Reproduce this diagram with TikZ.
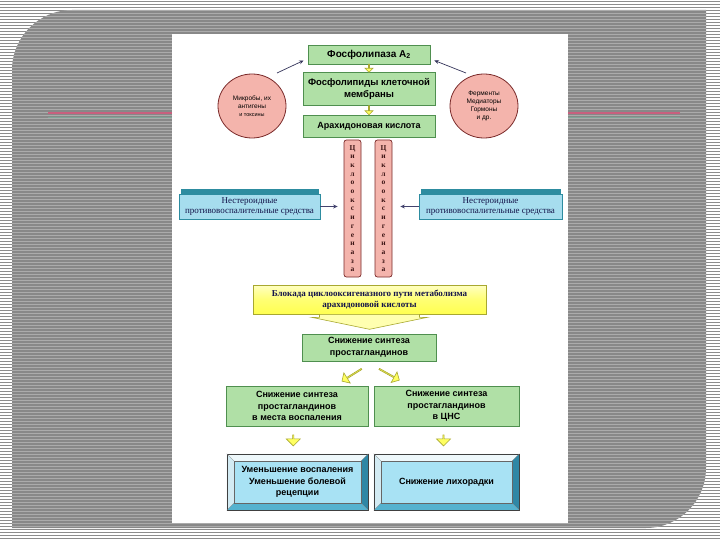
\documentclass[tikz,border=0pt]{standalone}
\usepackage{fontspec}
\setmainfont{Liberation Serif}
\setsansfont{Liberation Sans}
\usetikzlibrary{shapes.arrows,shapes.geometric,arrows.meta,calc}
\definecolor{bgline}{HTML}{8C8C8C}
\definecolor{shapegray}{HTML}{888888}
\definecolor{shapeline}{HTML}{ABABAB}
\definecolor{gfill}{HTML}{B0E0A6}
\definecolor{gdraw}{HTML}{4F8F4F}
\definecolor{pfill}{HTML}{F4B4AC}
\definecolor{pdraw}{HTML}{7A2A2A}
\definecolor{bfill}{HTML}{A6DDEE}
\definecolor{bdark}{HTML}{2D8CA0}
\definecolor{navy}{HTML}{14144A}
\definecolor{yfill}{HTML}{FFFF50}
\definecolor{ydraw}{HTML}{A8A830}
\definecolor{bvtop}{HTML}{EEF8FB}
\definecolor{bvleft}{HTML}{D3EBF3}
\definecolor{bvright}{HTML}{2F87A5}
\definecolor{bvbot}{HTML}{55B2CF}
\definecolor{bvin}{HTML}{A8E2F4}
\definecolor{pinkline}{HTML}{C8607E}
\definecolor{tealline}{HTML}{7FA496}
\newcommand\bevelframe[2]{%
  \fill[bvtop] (#1.north west) -- (#1.north east) -- ($(#1.north east)+(-#2,#2)$) -- ($(#1.north west)+(#2,#2)$) -- cycle;
  \fill[bvleft] (#1.north west) -- (#1.south west) -- ($(#1.south west)+(#2,-#2)$) -- ($(#1.north west)+(#2,#2)$) -- cycle;
  \fill[bvright] (#1.north east) -- (#1.south east) -- ($(#1.south east)+(-#2,-#2)$) -- ($(#1.north east)+(-#2,#2)$) -- cycle;
  \fill[bvbot] (#1.south west) -- (#1.south east) -- ($(#1.south east)+(-#2,-#2)$) -- ($(#1.south west)+(#2,-#2)$) -- cycle;
  \fill[bvin] ($(#1.north west)+(#2,#2)$) rectangle ($(#1.south east)+(-#2,-#2)$);
  \draw[black!75, line width=0.6pt] (#1.north west) rectangle (#1.south east);
  \draw[black!60, line width=0.4pt] ($(#1.north west)+(#2,#2)$) rectangle ($(#1.south east)+(-#2,-#2)$);
  \draw[black!50, line width=0.3pt] (#1.north west) -- ($(#1.north west)+(#2,#2)$)
     (#1.north east) -- ($(#1.north east)+(-#2,#2)$)
     (#1.south west) -- ($(#1.south west)+(#2,-#2)$)
     (#1.south east) -- ($(#1.south east)+(-#2,-#2)$);
}
\begin{document}
\begin{tikzpicture}[x=1pt,y=-1pt,
  gbox/.style={draw=gdraw, fill=gfill, line width=0.8pt, align=center, inner sep=1pt,
     font=\sffamily\bfseries\fontsize{9}{11.5}\selectfont},
  circ/.style={ellipse, draw=pdraw, fill=pfill, line width=0.8pt, align=center, inner sep=0pt,
     font=\sffamily\fontsize{6.5}{8}\selectfont},
  cyc/.style={draw=pdraw, fill=pfill, rounded corners=2.5pt, line width=0.7pt, align=center, inner sep=0pt,
     text=pdraw!50!black, font=\rmfamily\bfseries\fontsize{7.5}{8.7}\selectfont},
  nsbox/.style={draw=bdark, fill=bfill, line width=0.6pt, align=center, inner sep=0pt, text=navy,
     font=\rmfamily\fontsize{9}{9.8}\selectfont},
  ybox/.style={draw=ydraw, line width=0.6pt, align=center, inner sep=0pt, text=navy,
     font=\rmfamily\bfseries\fontsize{9}{10.5}\selectfont},
  yarrow/.style={single arrow, draw=ydraw, fill=yfill!90!white, line width=0.6pt, inner sep=0pt},
  thinarr/.style={draw=navy!80, line width=0.7pt, -{Stealth[length=4.5pt,width=4pt]}},
  bvtext/.style={align=center, font=\sffamily\bfseries\fontsize{9}{11.7}\selectfont}
]
\useasboundingbox (0,0) rectangle (720,540);
% background
\fill[white] (0,0) rectangle (720,540);
\foreach \k in {0,...,179}{\draw[bgline, line width=1.4pt] (0,3*\k+1.5) -- (720,3*\k+1.5);}
\def\shapepath{(12,528) -- (12,70) .. controls (12,37) and (39,10) .. (72,10) -- (706,10) -- (706,468) .. controls (706,501) and (679,528) .. (646,528) -- cycle}
\fill[shapegray] \shapepath;
\begin{scope}
  \clip \shapepath;
  \foreach \k in {0,...,179}{\draw[shapeline, line width=1pt] (0,3*\k+1.5) -- (720,3*\k+1.5);}
\end{scope}
\draw[pinkline, line width=2pt] (48,113) -- (172,113) (568,113) -- (680,113);
\draw[tealline, line width=1.5pt] (48,117.5) -- (172,117.5) (568,117.5) -- (680,117.5);
\fill[white] (172,34) rectangle (568,523);

% top chain
\node[gbox, minimum width=122, minimum height=19, font=\sffamily\bfseries\fontsize{10}{12}\selectfont] (b1) at (369,54.5) {Фосфолипаза А\textsubscript{2}};
\node[gbox, minimum width=132, minimum height=33, font=\sffamily\bfseries\fontsize{9.5}{12}\selectfont] (b2) at (369,88.5) {Фосфолипиды клеточной\\мембраны};
\node[gbox, minimum width=132, minimum height=22] (b3) at (369,126) {Арахидоновая кислота};
\node[yarrow, minimum width=8pt, single arrow head extend=2pt, minimum height=8pt, shape border rotate=270] (a12) at ($(b1.south)!0.5!(b2.north)$) {};
\node[yarrow, minimum width=8pt, single arrow head extend=2pt, minimum height=9pt, shape border rotate=270] (a23) at ($(b2.south)!0.5!(b3.north)$) {};

% circles
\node[circ, minimum width=68, minimum height=64] (c1) at (252,106) {Микробы, их\\антигены\\{\fontsize{5.5}{6.5}\selectfont и токсины}};
\node[circ, minimum width=68, minimum height=64] (c2) at (484,106) {Ферменты\\Медиаторы\\Гормоны\\и др.};
\coordinate (c1o) at (277,73);
\coordinate (c2o) at (466,73);
\draw[thinarr, draw=navy!70!gray] (c1o) -- ($(b1.west)+(-4,6)$);
\draw[thinarr, draw=navy!70!gray] (c2o) -- ($(b1.east)+(4,6)$);

% cyclooxygenase columns
\node[cyc, minimum width=17, minimum height=137] (k1) at (352.5,208.5) {Ц\\и\\к\\л\\о\\о\\к\\с\\и\\г\\е\\н\\а\\з\\а};
\node[cyc, minimum width=17, minimum height=137] (k2) at (383.5,208.5) {Ц\\и\\к\\л\\о\\о\\к\\с\\и\\г\\е\\н\\а\\з\\а};

% NSAID boxes
\fill[bdark] (181,189) rectangle (319,214);
\node[nsbox, minimum width=141, minimum height=25] (n1) at (249.5,206.5) {Нестероидные\\противовоспалительные средства};
\fill[bdark] (421,189) rectangle (561,214);
\node[nsbox, minimum width=143, minimum height=25] (n2) at (490.5,206.5) {Нестероидные\\противовоспалительные средства};
\draw[thinarr, shorten >=6pt] (n1.east) -- (n1.east -| k1.west);
\draw[thinarr, shorten >=8pt] (n2.west) -- (n2.west -| k2.east);

% blockade
\node[ybox, top color=yfill!35!white, bottom color=yfill, middle color=yfill!80!white, minimum width=233, minimum height=29] (y1) at (369.5,299.5) {Блокада циклооксигеназного пути метаболизма\\арахидоновой кислоты};
\node[gbox, minimum width=134, minimum height=27] (s1) at (369,347.5) {Снижение синтеза\\простагландинов};
\filldraw[draw=ydraw, fill=yfill!45!white, line width=0.6pt]
  ($(y1.south)+(-50,0)$) -- ($(y1.south)+(50,0)$) -- ($(y1.south)+(50,3)$) -- ($(y1.south)+(58,3)$)
  -- ($(y1.south)+(0,15)$) -- ($(y1.south)+(-58,3)$) -- ($(y1.south)+(-50,3)$) -- cycle;

% second level
\node[gbox, minimum width=142, minimum height=40] (p1) at (297,406) {Снижение синтеза\\простагландинов\\в места воспаления};
\node[gbox, minimum width=145, minimum height=40] (p2) at (446.5,406) {Снижение синтеза\\простагландинов\\в ЦНС};
\node[yarrow, minimum width=12pt, single arrow head extend=2.5pt, minimum height=23pt, rotate=212] (d1) at ($(s1.south)+(-17,13.5)$) {};
\node[yarrow, minimum width=12pt, single arrow head extend=2.5pt, minimum height=23pt, rotate=-29] (d2) at ($(s1.south)+(20,13)$) {};

% bottom bevel boxes
\node[minimum width=141, minimum height=56, inner sep=0pt] (r1) at (297.5,482) {};
\node[minimum width=145, minimum height=56, inner sep=0pt] (r2) at (446.5,482) {};
\bevelframe{r1}{7}
\bevelframe{r2}{7}
\node[bvtext] (t1) at (r1) {Уменьшение воспаления\\Уменьшение болевой\\рецепции};
\node[bvtext] (t2) at (r2) {Снижение лихорадки};
\node[yarrow, minimum width=14pt, minimum height=11pt, single arrow head extend=3pt, shape border rotate=270] (e1) at ($(p1.south)!0.5!(r1.north)+(-4,0)$) {};
\node[yarrow, minimum width=14pt, minimum height=11pt, single arrow head extend=3pt, shape border rotate=270] (e2) at ($(p2.south)!0.5!(r2.north)+(-3,0)$) {};
\end{tikzpicture}
\end{document}
